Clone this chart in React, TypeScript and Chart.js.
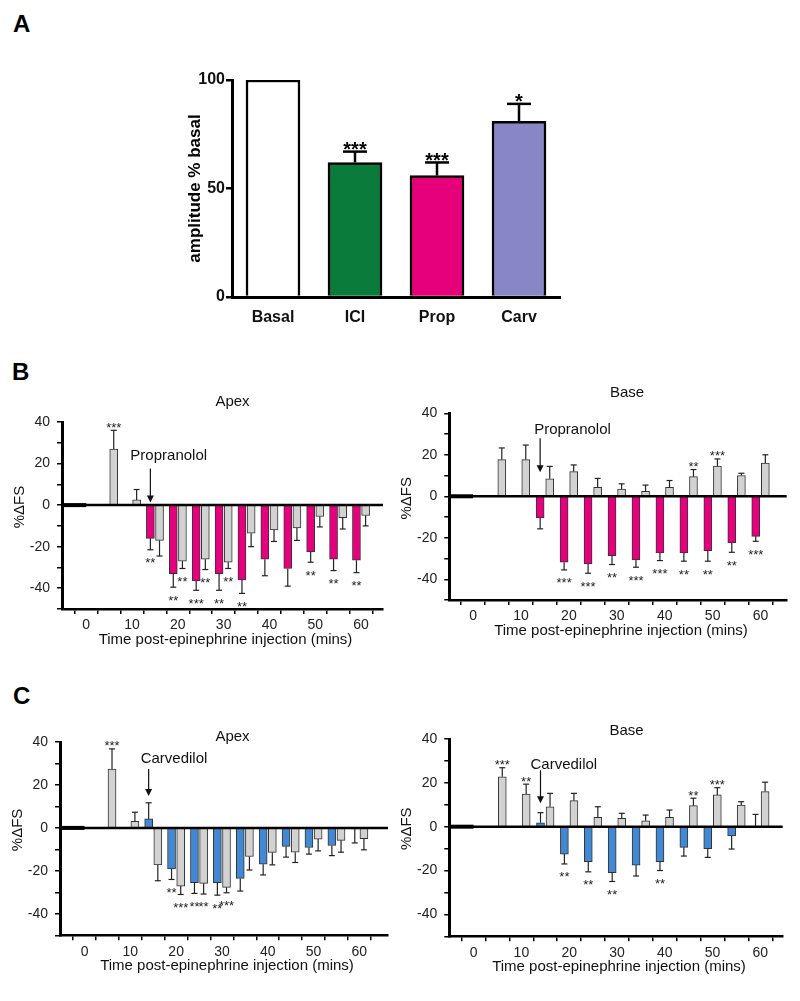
import React, { useEffect, useRef } from 'react';
import { Chart, registerables } from 'chart.js';
Chart.register(...registerables);

const FONT = 'Arial, "Liberation Sans", Helvetica, sans-serif';

// ---------- Panel A ----------
const aCategories = ['Basal', 'ICI', 'Prop', 'Carv'];
const aValues = [100, 62, 56, 81];
const aErrors = [0, 5, 6, 8];
const aStars = ['', '***', '***', '*'];
const aYTicks = [0, 50, 100];
const aColors = ['#ffffff', '#0b7b3c', '#e6007a', '#8787c6'];

// ---------- Time course panels ----------
const vehicleTimes = [5, 10, 15, 20, 25, 30, 35, 40, 45, 50, 55, 60];
const drugTimes = [15, 20, 25, 30, 35, 40, 45, 50, 55, 60];
const xTicks = [0, 5, 10, 15, 20, 25, 30, 35, 40, 45, 50, 55, 60];
const xLabelTicks = [0, 10, 20, 30, 40, 50, 60];
const yTicks = [-50, -40, -30, -20, -10, 0, 10, 20, 30, 40];
const yLabelTicks = [-40, -20, 0, 20, 40];

// B – Apex (vehicle = grey, drug = propranolol)
const bApexVehicle = [27, 2.5, -17, -27, -26, -27.5, -13.5, -12, -11, -5.5, -6, -5];
const bApexVehicleErr = [9, 5, 7.5, 3.5, 5, 3, 6.5, 5.5, 6, 5, 5.5, 5];
const bApexVehicleStars = ['***', '', '', '**', '**', '**', '', '', '', '', '', ''];
const bApexDrug = [-16, -33, -36.5, -33, -36, -26, -30.5, -22.5, -26, -26.5];
const bApexDrugErr = [5.5, 6.5, 4.5, 8, 6.5, 8, 8.5, 5, 5.5, 6];
const bApexDrugStars = ['**', '**', '***', '**', '**', '', '', '**', '**', '**'];

// B – Base
const bBaseVehicle = [17.7, 17.7, 8.4, 11.9, 4.3, 3.5, 2.4, 4.3, 9.5, 14.5, 10, 16];
const bBaseVehicleErr = [5.6, 7, 6, 3.2, 4.3, 2.5, 3, 3.3, 3.4, 3.5, 1.1, 4];
const bBaseVehicleStars = ['', '', '', '', '', '', '', '', '**', '***', '', ''];
const bBaseDrug = [-10.4, -31.8, -32.6, -28.6, -30.7, -27.3, -27.3, -26.2, -22.5, -19.3];
const bBaseDrugErr = [5.3, 3.7, 4.5, 4.3, 3.5, 3.7, 4, 5.1, 4.5, 2.4];
const bBaseDrugStars = ['', '***', '***', '**', '***', '***', '**', '**', '**', '***'];

// C – Apex (drug = carvedilol)
const cApexVehicle = [27.4, 3.1, -17.2, -27.1, -25.8, -27.7, -13.3, -11.4, -11.3, -5.2, -5.8, -5];
const cApexVehicleErr = [9.4, 4.2, 7.4, 3.9, 5, 2.5, 6.3, 5.8, 4.8, 5.5, 5.5, 5.2];
const cApexVehicleStars = ['***', '', '', '***', '**', '***', '', '', '', '', '', ''];
const cApexDrug = [4.2, -19.1, -25.5, -25.5, -23.5, -16.9, -8.6, -9.1, -8.2, -0.5];
const cApexDrugErr = [7.5, 4.9, 5, 5.8, 5.9, 5, 5, 3.1, 4.7, 6.5];
const cApexDrugStars = ['', '**', '**', '**', '', '', '', '', '', ''];

// C – Base
const cBaseVehicle = [22.8, 14.9, 9.1, 11.9, 4.3, 3.8, 2.7, 4.3, 9.6, 14.5, 9.9, 16];
const cBaseVehicleErr = [4.1, 4.5, 6.1, 3.3, 4.8, 2.3, 2.6, 3.3, 3.4, 3.3, 1.5, 4.3];
const cBaseVehicleStars = ['***', '**', '', '', '', '', '', '', '**', '***', '', ''];
const cBaseDrug = [1.8, -12.5, -16, -21, -17.5, -16, -9.4, -10, -4.2, 0.3];
const cBaseDrugErr = [4.6, 4.5, 4.6, 4, 5, 4, 4, 4, 6, 5.3];
const cBaseDrugStars = ['', '**', '**', '**', '', '**', '', '', '', ''];

const GRAY = '#d2d2d2';
const MAGENTA = '#e6007e';
const BLUE = '#4288d3';

type Series = { values: number[]; errors: number[]; stars: string[] };

type TimePanel = {
  left: number; top: number; width: number; height: number;
  pad: { top: number; right: number }; yW: number; xH: number;
  xMin: number; xMax: number;
  vehicle: Series; drug: Series; drugColor: string;
  drugName: string; title: string; titleX: number; titleY: number;
  arrowTip: number; arrowLen: number; labelDx: number; labelDy: number;
};

function line(ctx: CanvasRenderingContext2D, x1: number, y1: number, x2: number, y2: number) {
  ctx.beginPath();
  ctx.moveTo(x1, y1);
  ctx.lineTo(x2, y2);
  ctx.stroke();
}

function buildTimeConfig(p: TimePanel): any {
  const series = [p.vehicle, p.drug];
  const plugin = {
    id: 'timeAnnot',
    afterDatasetsDraw(chart: any) {
      const ctx: CanvasRenderingContext2D = chart.ctx;
      const { left, right, bottom } = chart.chartArea;
      const xs = chart.scales.x;
      const ys = chart.scales.y;
      const y0 = ys.getPixelForValue(0);
      ctx.save();
      ctx.strokeStyle = '#000';
      ctx.lineWidth = 2.5;
      line(ctx, left, y0, right, y0);
      ctx.lineWidth = 4;
      line(ctx, left, y0, xs.getPixelForValue(0), y0);

      series.forEach((s, di) => {
        const meta = chart.getDatasetMeta(di);
        meta.data.forEach((el: any, i: number) => {
          const v = s.values[i];
          const e = s.errors[i];
          const dir = v >= 0 ? 1 : -1;
          const yv = ys.getPixelForValue(v);
          const ye = ys.getPixelForValue(v + dir * e);
          ctx.strokeStyle = '#222';
          ctx.lineWidth = 1.2;
          line(ctx, el.x, yv, el.x, ye);
          line(ctx, el.x - 3, ye, el.x + 3, ye);
          if (s.stars[i]) {
            ctx.font = `13px ${FONT}`;
            ctx.textAlign = 'center';
            ctx.textBaseline = 'alphabetic';
            ctx.fillStyle = '#222';
            ctx.fillText(s.stars[i], el.x, dir > 0 ? ye + 1.4 : ye + 17.4);
          }
        });
      });

      // titles
      ctx.fillStyle = '#111';
      ctx.font = `15px ${FONT}`;
      ctx.textAlign = 'center';
      ctx.textBaseline = 'middle';
      ctx.fillText(p.title, p.titleX, p.titleY);
      ctx.fillText('Time post-epinephrine injection (mins)', (left + right) / 2 + 3, bottom + 31);
      ctx.save();
      ctx.translate(left - 42, y0 + 2);
      ctx.rotate(-Math.PI / 2);
      ctx.fillText('%ΔFS', 0, 0);
      ctx.restore();

      // arrow + drug label
      const ax = xs.getPixelForValue(drugTimes[0] - 1);
      const tipY = ys.getPixelForValue(p.arrowTip);
      const startY = tipY - p.arrowLen;
      ctx.strokeStyle = '#111';
      ctx.lineWidth = 1.2;
      line(ctx, ax, startY, ax, tipY - 6);
      ctx.beginPath();
      ctx.moveTo(ax - 3.5, tipY - 7);
      ctx.lineTo(ax + 3.5, tipY - 7);
      ctx.lineTo(ax, tipY);
      ctx.closePath();
      ctx.fill();
      ctx.textAlign = 'left';
      ctx.fillText(p.drugName, ax + p.labelDx, startY + p.labelDy);
      ctx.restore();
    },
  };

  const tickFont = { family: FONT, size: 14 };
  return {
    type: 'bar',
    data: {
      datasets: [
        {
          data: vehicleTimes.map((t, i) => ({ x: t + 1, y: p.vehicle.values[i] })),
          backgroundColor: GRAY,
          borderColor: '#333',
          borderWidth: 1,
          barThickness: 8,
          grouped: false,
        },
        {
          data: drugTimes.map((t, i) => ({ x: t - 1, y: p.drug.values[i] })),
          backgroundColor: p.drugColor,
          borderColor: '#333',
          borderWidth: 1,
          barThickness: 8,
          grouped: false,
        },
      ],
    },
    options: {
      animation: false,
      responsive: false,
      maintainAspectRatio: false,
      layout: { padding: { left: 0, top: p.pad.top, right: p.pad.right, bottom: 0 }, autoPadding: false },
      plugins: { legend: { display: false }, tooltip: { enabled: false } },
      scales: {
        x: {
          type: 'linear',
          min: p.xMin,
          max: p.xMax,
          afterBuildTicks: (s: any) => { s.ticks = xTicks.map((v) => ({ value: v })); },
          afterFit: (s: any) => { s.height = p.xH; s.paddingLeft = 0; s.paddingRight = 0; },
          grid: { drawOnChartArea: false, drawTicks: true, tickLength: 5, color: '#000', lineWidth: 1.5 },
          border: { color: '#000', width: 2.5 },
          ticks: {
            autoSkip: false, maxRotation: 0, padding: 3, color: '#222', font: tickFont,
            callback: (v: any) => (xLabelTicks.includes(v) ? String(v) : ''),
          },
        },
        y: {
          min: -50,
          max: 40,
          afterBuildTicks: (s: any) => { s.ticks = yTicks.map((v) => ({ value: v })); },
          afterFit: (s: any) => { s.width = p.yW; s.paddingTop = 0; s.paddingBottom = 0; },
          grid: { drawOnChartArea: false, drawTicks: true, tickLength: 5, color: '#000', lineWidth: 1.5 },
          border: { color: '#000', width: 3 },
          ticks: {
            autoSkip: false, padding: 7, color: '#222', font: tickFont,
            callback: (v: any) => (yLabelTicks.includes(v) ? String(v) : ''),
          },
        },
      },
    },
    plugins: [plugin],
  };
}

function buildAConfig(): any {
  const plugin = {
    id: 'aAnnot',
    afterDatasetsDraw(chart: any) {
      const ctx: CanvasRenderingContext2D = chart.ctx;
      const { top, bottom } = chart.chartArea;
      const ys = chart.scales.y;
      const meta = chart.getDatasetMeta(0);
      ctx.save();
      meta.data.forEach((el: any, i: number) => {
        if (aErrors[i] > 0) {
          const yv = ys.getPixelForValue(aValues[i]);
          const ye = ys.getPixelForValue(aValues[i] + aErrors[i]);
          ctx.strokeStyle = '#000';
          ctx.lineWidth = 2.5;
          line(ctx, el.x, yv, el.x, ye);
          line(ctx, el.x - 12, ye, el.x + 12, ye);
          if (aStars[i]) {
            ctx.fillStyle = '#000';
            ctx.font = `bold 20px ${FONT}`;
            ctx.textAlign = 'center';
            ctx.textBaseline = 'alphabetic';
            ctx.fillText(aStars[i], el.x, ye + 4.4);
          }
        }
      });
      ctx.fillStyle = '#000';
      ctx.font = `bold 17px ${FONT}`;
      ctx.textAlign = 'center';
      ctx.textBaseline = 'middle';
      ctx.translate(45, (top + bottom) / 2);
      ctx.rotate(-Math.PI / 2);
      ctx.fillText('amplitude % basal', 0, 0);
      ctx.restore();
    },
  };
  const boldFont = { family: FONT, size: 16, weight: 'bold' };
  return {
    type: 'bar',
    data: {
      labels: aCategories,
      datasets: [
        {
          data: aValues,
          backgroundColor: aColors,
          borderColor: '#000',
          borderWidth: 2.5,
          barThickness: 54,
        },
      ],
    },
    options: {
      animation: false,
      responsive: false,
      maintainAspectRatio: false,
      layout: { padding: { left: 0, top: 30, right: 10, bottom: 0 }, autoPadding: false },
      plugins: { legend: { display: false }, tooltip: { enabled: false } },
      scales: {
        x: {
          grid: { display: false, drawTicks: false },
          border: { color: '#000', width: 3 },
          ticks: { font: boldFont, color: '#111', padding: 11 },
          afterFit: (s: any) => { s.height = 43; s.paddingLeft = 0; s.paddingRight = 0; },
        },
        y: {
          min: 0,
          max: 100,
          afterBuildTicks: (s: any) => { s.ticks = aYTicks.map((v) => ({ value: v })); },
          afterFit: (s: any) => { s.width = 82; s.paddingTop = 0; s.paddingBottom = 0; },
          grid: { drawOnChartArea: false, drawTicks: true, tickLength: 6, color: '#000', lineWidth: 2.5 },
          border: { color: '#000', width: 3 },
          ticks: { font: boldFont, color: '#111', padding: 1 },
        },
      },
    },
    plugins: [plugin],
  };
}

function ChartCanvas(props: { left: number; top: number; width: number; height: number; build: () => any }) {
  const ref = useRef<HTMLCanvasElement>(null);
  useEffect(() => {
    const chart = new Chart(ref.current as HTMLCanvasElement, props.build());
    return () => chart.destroy();
  }, []);
  return (
    <canvas
      ref={ref}
      width={props.width}
      height={props.height}
      style={{ position: 'absolute', left: props.left, top: props.top, width: props.width, height: props.height }}
    />
  );
}

const panels: TimePanel[] = [
  {
    left: 0, top: 380, width: 400, height: 275, pad: { top: 42, right: 17 }, yW: 62, xH: 46,
    xMin: -2.6, xMax: 62.1,
    vehicle: { values: bApexVehicle, errors: bApexVehicleErr, stars: bApexVehicleStars },
    drug: { values: bApexDrug, errors: bApexDrugErr, stars: bApexDrugStars },
    drugColor: MAGENTA, drugName: 'Propranolol', title: 'Apex', titleX: 232.5, titleY: 21.7,
    arrowTip: 1.2, arrowLen: 34, labelDx: -20, labelDy: -13,
  },
  {
    left: 400, top: 370, width: 400, height: 275, pad: { top: 43.3, right: 13.3 }, yW: 49.3, xH: 45,
    xMin: -2.25, xMax: 62.75,
    vehicle: { values: bBaseVehicle, errors: bBaseVehicleErr, stars: bBaseVehicleStars },
    drug: { values: bBaseDrug, errors: bBaseDrugErr, stars: bBaseDrugStars },
    drugColor: MAGENTA, drugName: 'Propranolol', title: 'Base', titleX: 227, titleY: 22.7,
    arrowTip: 11.6, arrowLen: 34, labelDx: -6, labelDy: -8,
  },
  {
    left: 0, top: 700, width: 400, height: 300, pad: { top: 42, right: 12 }, yW: 60, xH: 64.7,
    xMin: -2.6, xMax: 63.5,
    vehicle: { values: cApexVehicle, errors: cApexVehicleErr, stars: cApexVehicleStars },
    drug: { values: cApexDrug, errors: cApexDrugErr, stars: cApexDrugStars },
    drugColor: BLUE, drugName: 'Carvedilol', title: 'Apex', titleX: 232.5, titleY: 36.7,
    arrowTip: 14.8, arrowLen: 27, labelDx: -8, labelDy: -10,
  },
  {
    left: 400, top: 700, width: 400, height: 300, pad: { top: 39, right: 17.3 }, yW: 49.3, xH: 63.7,
    xMin: -2.4, xMax: 62,
    vehicle: { values: cBaseVehicle, errors: cBaseVehicleErr, stars: cBaseVehicleStars },
    drug: { values: cBaseDrug, errors: cBaseDrugErr, stars: cBaseDrugStars },
    drugColor: BLUE, drugName: 'Carvedilol', title: 'Base', titleX: 226.5, titleY: 30.7,
    arrowTip: 10.7, arrowLen: 33, labelDx: -10, labelDy: -5,
  },
];

const letterStyle = (left: number, top: number): React.CSSProperties => ({
  position: 'absolute', left, top, fontFamily: FONT, fontWeight: 'bold', fontSize: 24, lineHeight: '24px', color: '#000',
});

export default function App() {
  return (
    <div style={{ position: 'absolute', left: 0, top: 0, width: 800, height: 1001, background: '#fff', overflow: 'hidden' }}>
      <div style={letterStyle(13, 12)}>A</div>
      <div style={letterStyle(12, 360)}>B</div>
      <div style={letterStyle(13, 684)}>C</div>
      <ChartCanvas left={150} top={50} width={420} height={290} build={buildAConfig} />
      {panels.map((p, i) => (
        <ChartCanvas key={i} left={p.left} top={p.top} width={p.width} height={p.height} build={() => buildTimeConfig(p)} />
      ))}
    </div>
  );
}
